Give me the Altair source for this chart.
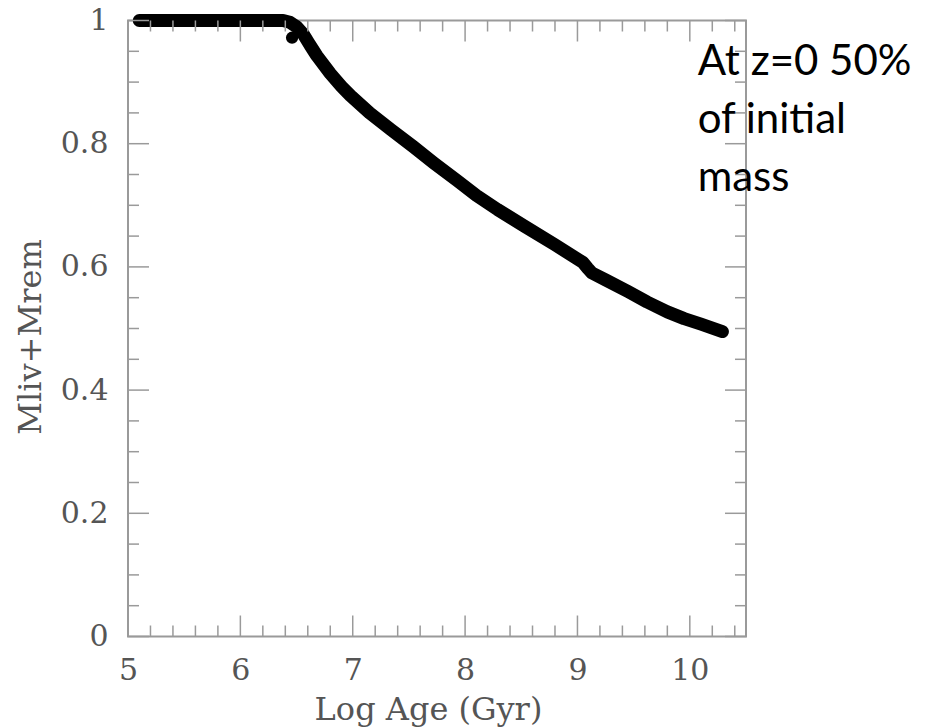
import altair as alt
import pandas as pd

# Living-star + remnant mass fraction against log age
log_age = [5.10, 6.00, 6.38, 6.44, 6.50, 6.56, 6.62, 6.68, 6.80, 6.90,
           6.98, 7.15, 7.34, 7.54, 7.72, 7.93, 8.10, 8.29, 8.52, 8.80,
           9.05, 9.09, 9.13, 9.25, 9.45, 9.62, 9.80, 9.95, 10.10, 10.29]
mass_frac = [1.000, 1.000, 1.000, 0.997, 0.990, 0.978, 0.960, 0.943, 0.914,
             0.893, 0.878, 0.850, 0.823, 0.795, 0.769, 0.740, 0.716, 0.693,
             0.667, 0.636, 0.607, 0.598, 0.590, 0.579, 0.560, 0.543, 0.527,
             0.516, 0.507, 0.495]

# stray sample just below the curve where it turns over
blob_age = [6.46]
blob_frac = [0.972]

# annotation
note_age = [10.07]
note_frac = [0.911]
note_text = ["At z=0 50%\nof initial\nmass"]

# tick positions for the inward-facing frame ticks
x_major = [5, 6, 7, 8, 9, 10]
x_minor = [5.2, 5.4, 5.6, 5.8, 6.2, 6.4, 6.6, 6.8, 7.2, 7.4, 7.6, 7.8,
           8.2, 8.4, 8.6, 8.8, 9.2, 9.4, 9.6, 9.8, 10.2, 10.4]
y_major = [0, 0.2, 0.4, 0.6, 0.8, 1.0]
y_minor = [0.05, 0.1, 0.15, 0.25, 0.3, 0.35, 0.45, 0.5, 0.55, 0.65, 0.7,
           0.75, 0.85, 0.9, 0.95]

W, H = 618, 616
MAJOR, MINOR = 21, 11
TICK_COLOR = "#9a9a9a"
SERIF = "DejaVu Serif"
TEXT_GRAY = "#555555"

x_scale = alt.Scale(domain=[5, 10.5], nice=False, zero=False)
y_scale = alt.Scale(domain=[0, 1], nice=False, zero=False)

curve_df = pd.DataFrame({"age": log_age, "frac": mass_frac})
blob_df = pd.DataFrame({"age": blob_age, "frac": blob_frac})
note_df = pd.DataFrame({"age": note_age, "frac": note_frac, "txt": note_text})

x_axis = alt.Axis(
    values=x_major, format="d", grid=False, domain=False, ticks=False,
    tickSize=0, labelPadding=19, labelFlush=False, labelFont=SERIF,
    labelFontSize=30, labelColor=TEXT_GRAY, title="Log Age (Gyr)",
    titleFont=SERIF, titleFontSize=32, titleFontWeight="normal",
    titleColor=TEXT_GRAY, titleX=300, titleY=83, titleBaseline="alphabetic",
    titleAlign="center",
)
y_axis = alt.Axis(
    values=y_major, format="~g", grid=False, domain=False, ticks=False,
    tickSize=0, labelPadding=20, labelFlush=False, labelFont=SERIF,
    labelFontSize=30, labelColor=TEXT_GRAY, title="Mliv+Mrem",
    titleFont=SERIF, titleFontSize=32, titleFontWeight="normal",
    titleColor=TEXT_GRAY, titleX=-88, titleY=316, titleAngle=-90,
    titleBaseline="alphabetic", titleAlign="center",
)


def xq(field):
    return alt.X(f"{field}:Q", scale=x_scale, axis=x_axis)


def yq(field):
    return alt.Y(f"{field}:Q", scale=y_scale, axis=y_axis)


curve = alt.Chart(curve_df).mark_line(
    color="black", strokeWidth=13, strokeCap="round", strokeJoin="round",
).encode(x=xq("age"), y=yq("frac"))

blob = alt.Chart(blob_df).mark_circle(color="black", opacity=1, size=150).encode(
    x=xq("age"), y=yq("frac"),
)


def x_ticks(values, length):
    df = pd.DataFrame({"age": values})
    bottom = alt.Chart(df).mark_rule(color=TICK_COLOR, strokeWidth=1.5).encode(
        x=xq("age"), y=alt.value(H), y2=alt.value(H - length))
    top = alt.Chart(df).mark_rule(color=TICK_COLOR, strokeWidth=1.5).encode(
        x=xq("age"), y=alt.value(0), y2=alt.value(length))
    return [bottom, top]


def y_ticks(values, length):
    df = pd.DataFrame({"frac": values})
    left = alt.Chart(df).mark_rule(color=TICK_COLOR, strokeWidth=1.5).encode(
        y=yq("frac"), x=alt.value(0), x2=alt.value(length))
    right = alt.Chart(df).mark_rule(color=TICK_COLOR, strokeWidth=1.5).encode(
        y=yq("frac"), x=alt.value(W), x2=alt.value(W - length))
    return [left, right]


note = alt.Chart(note_df).mark_text(
    align="left", baseline="alphabetic", font="Lato", fontSize=42,
    lineBreak="\n", lineHeight=58, color="black",
).encode(x=xq("age"), y=yq("frac"), text="txt:N")

layers = ([curve, blob]
          + x_ticks(x_major, MAJOR) + x_ticks(x_minor, MINOR)
          + y_ticks(y_major, MAJOR) + y_ticks(y_minor, MINOR)
          + [note])

chart = alt.layer(*layers).properties(
    width=W, height=H,
    autosize=alt.AutoSizeParams(type="none"),
    padding={"left": 128, "top": 20.5, "right": 180, "bottom": 90.5},
    background="white",
).configure_view(stroke="#9a9a9a", strokeWidth=2)

chart.save("out.html", embed_options={"renderer": "svg", "actions": False})
